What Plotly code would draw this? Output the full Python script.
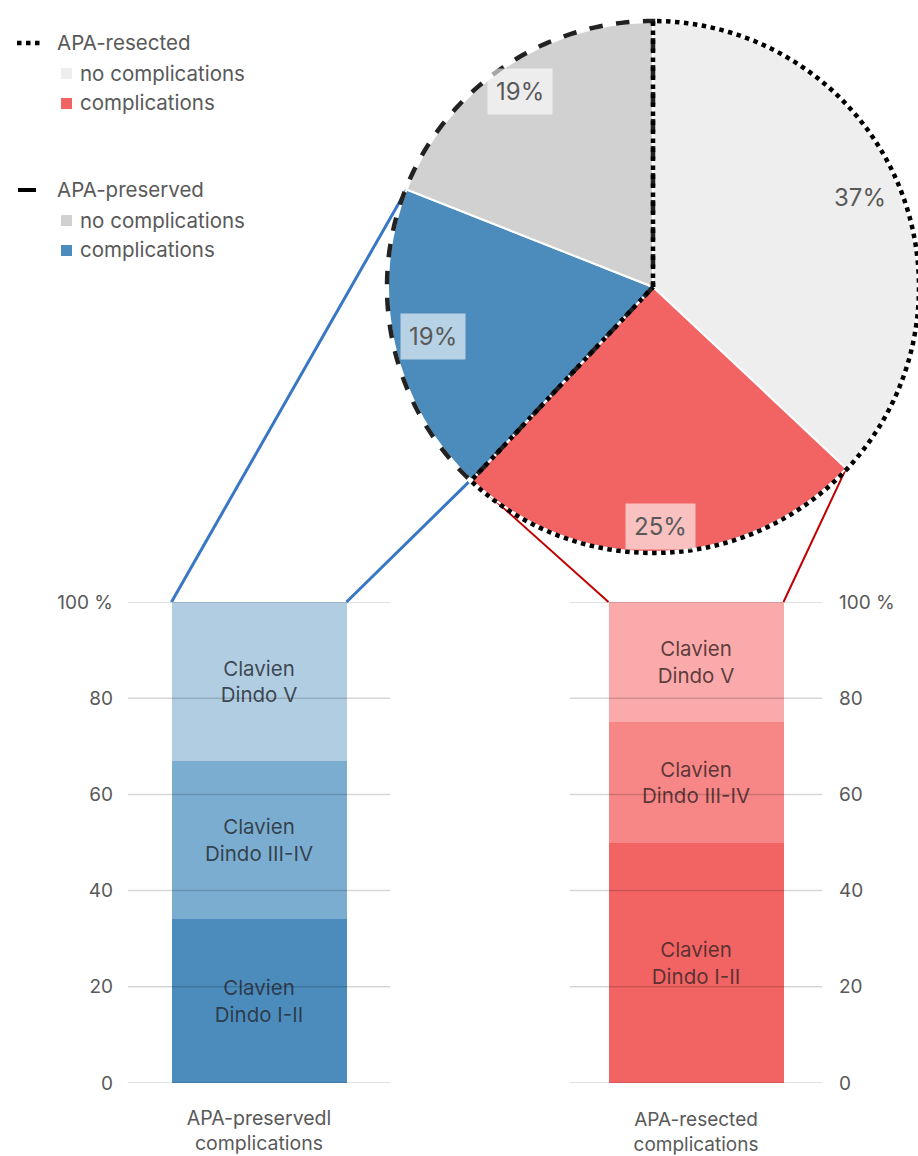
import math
import plotly.graph_objects as go

W, H = 918, 1156

# ---------------- data ----------------
pie_labels = ["APA-resected no complications", "APA-resected complications",
              "APA-preserved complications", "APA-preserved no complications"]
pie_values = [37, 25, 19, 19]
pie_colors = ["#eeeeee", "#f26464", "#4b8cbd", "#d1d1d1"]
pie_text = ["37%", "25%", "19%", "19%"]

grades = ["Clavien<br>Dindo I-II", "Clavien<br>Dindo III-IV", "Clavien<br>Dindo V"]
preserved_vals = [34, 33, 33]
resected_vals = [50, 25, 25]
preserved_colors = ["#4b8cbd", "#7badd0", "#b0cde2"]
resected_colors = ["#f26464", "#f78787", "#fbaaab"]
cat_preserved = ["APA-preservedl<br>complications"]
cat_resected = ["APA-resected<br>complications"]
y_ticks = [0, 20, 40, 60, 80, 100]
y_ticktext = ["0", "20", "40", "60", "80", "100 %"]

FONT = "Inter, Open Sans, sans-serif"
GREY = "#595959"

# ---------------- layout geometry ----------------
L_DOM = (128, 390)
R_DOM = (570, 822)
Y_TOP, Y_BOT = 602, 1083
BAR_W_PX = 175
PIE_CX, PIE_CY, PIE_R = 653, 287, 265


def px(x):
    return x / W


def py(y):
    return 1 - y / H


fig = go.Figure()

# pie
pie_dom_x = [px(PIE_CX - (W - PIE_CX)), 1.0]
pie_dom_y = [py(2 * PIE_CY), 1.0]
fig.add_trace(go.Pie(
    labels=pie_labels, values=pie_values, sort=False, direction="clockwise",
    rotation=0, marker=dict(colors=pie_colors, line=dict(color="white", width=2)),
    textinfo="none", hoverinfo="label+percent", showlegend=False,
    domain=dict(x=pie_dom_x, y=pie_dom_y)))

# stacked bars
lw = (L_DOM[1] - L_DOM[0])
rw = (R_DOM[1] - R_DOM[0])
for v, c, g in zip(preserved_vals, preserved_colors, grades):
    fig.add_trace(go.Bar(x=cat_preserved, y=[v], marker=dict(color=c, line=dict(width=0)),
                         width=BAR_W_PX / lw, text=[g], textposition="inside",
                         insidetextanchor="middle", constraintext="none",
                         textfont=dict(family=FONT, size=20.5, color="rgba(40,45,55,0.85)"),
                         xaxis="x", yaxis="y", showlegend=False, hoverinfo="y"))
for v, c, g in zip(resected_vals, resected_colors, grades):
    fig.add_trace(go.Bar(x=cat_resected, y=[v], marker=dict(color=c, line=dict(width=0)),
                         width=BAR_W_PX / rw, text=[g], textposition="inside",
                         insidetextanchor="middle", constraintext="none",
                         textfont=dict(family=FONT, size=20.5, color="rgba(65,40,40,0.85)"),
                         xaxis="x2", yaxis="y2", showlegend=False, hoverinfo="y"))

axis_common = dict(range=[0, 100], tickvals=y_ticks, ticktext=y_ticktext,
                   showgrid=False, zeroline=False, showline=False, automargin=False,
                   tickfont=dict(family=FONT, size=19, color=GREY))
xaxis_common = dict(showgrid=False, zeroline=False, showline=False, range=[-0.5, 0.5],
                    automargin=False)

fig.update_layout(
    width=W, height=H, margin=dict(l=0, r=0, t=0, b=0, pad=0, autoexpand=False),
    paper_bgcolor="white", plot_bgcolor="white", barmode="stack",
    xaxis=dict(domain=[px(L_DOM[0]), px(L_DOM[1])], anchor="y", ticklabelstandoff=21,
               tickfont=dict(family=FONT, size=19.5, color=GREY), **xaxis_common),
    yaxis=dict(domain=[py(Y_BOT), py(Y_TOP)], anchor="x", side="left",
               ticklabelstandoff=14, **axis_common),
    xaxis2=dict(domain=[px(R_DOM[0]), px(R_DOM[1])], anchor="y2", ticklabelstandoff=23,
                tickfont=dict(family=FONT, size=19, color=GREY), **xaxis_common),
    yaxis2=dict(domain=[py(Y_BOT), py(Y_TOP)], anchor="x2", side="right",
                ticklabelstandoff=16, **axis_common),
)

shapes = []
# gridlines above bars
for ax in ["", "2"]:
    for t in y_ticks:
        shapes.append(dict(type="line", xref=f"x{ax} domain", yref=f"y{ax}", x0=0, x1=1,
                           y0=t, y1=t, line=dict(color="rgba(0,0,0,0.16)", width=1.5),
                           layer="above"))

# pie boundaries
cum = [0]
for v in pie_values:
    cum.append(cum[-1] + v)
tot = cum[-1]


def pie_pt(frac, r=PIE_R):
    a = 2 * math.pi * frac
    return PIE_CX + r * math.sin(a), PIE_CY - r * math.cos(a)


def wedge_path(f0, f1, n=120):
    pts = [(PIE_CX, PIE_CY)]
    for i in range(n + 1):
        pts.append(pie_pt(f0 + (f1 - f0) * i / n, PIE_R + 1))
    pts.append((PIE_CX, PIE_CY))
    return "M " + " L ".join(f"{px(x):.5f},{py(y):.5f}" for x, y in pts)


resected_end = cum[2] / tot
shapes.append(dict(type="path", xref="paper", yref="paper",
                   path=wedge_path(resected_end, 1.0),
                   line=dict(color="#222222", width=4.5, dash="dash")))
shapes.append(dict(type="path", xref="paper", yref="paper",
                   path=wedge_path(0.0, resected_end),
                   line=dict(color="black", width=4.5, dash="dot")))

# connector lines
lbar_c = (L_DOM[0] + L_DOM[1]) / 2
rbar_c = (R_DOM[0] + R_DOM[1]) / 2
blue_a = pie_pt(cum[3] / tot)
blue_b = pie_pt(cum[2] / tot)
red_a = pie_pt(cum[2] / tot)
red_b = pie_pt(cum[1] / tot)
for (x0, y0), (x1, y1), col, w in [
    ((lbar_c - BAR_W_PX / 2, Y_TOP), blue_a, "#3777c4", 3),
    ((lbar_c + BAR_W_PX / 2, Y_TOP), (blue_b[0] - 3, blue_b[1] + 2), "#3777c4", 3),
    ((rbar_c - BAR_W_PX / 2, Y_TOP), (red_a[0] + 2, red_a[1] + 1), "#c00000", 2),
    ((rbar_c + BAR_W_PX / 2, Y_TOP), red_b, "#c00000", 2),
]:
    shapes.append(dict(type="line", xref="paper", yref="paper",
                       x0=px(x0), y0=py(y0), x1=px(x1), y1=py(y1),
                       line=dict(color=col, width=w), layer="below"))

annotations = []
# pie percentage labels
label_r = [0.85, 0.905, 0.85, 0.89]
boxed = [False, True, True, True]
for i, (t, rr, b) in enumerate(zip(pie_text, label_r, boxed)):
    mid = (cum[i] + cum[i + 1]) / 2 / tot
    x, y = pie_pt(mid, PIE_R * rr)
    annotations.append(dict(x=px(x), y=py(y), xref="paper", yref="paper", text=t,
                            showarrow=False, xanchor="center", yanchor="middle",
                            font=dict(family=FONT, size=24, color=GREY),
                            bgcolor="rgba(255,255,255,0.6)" if b else None,
                            borderpad=8 if b else 0))

# custom legend
legend_items = [
    ("APA-resected", None, 42, 55),
    ("no complications", pie_colors[0], 73, 78),
    ("complications", pie_colors[1], 103, 78),
    ("APA-preserved", None, 190, 55),
    ("no complications", pie_colors[3], 220, 78),
    ("complications", pie_colors[2], 250, 78),
]
for text, col, y, x in legend_items:
    annotations.append(dict(x=px(x), y=py(y), xref="paper", yref="paper", text=text,
                            showarrow=False, xanchor="left", yanchor="middle",
                            font=dict(family=FONT, size=20.5, color=GREY)))
    if col:
        shapes.append(dict(type="rect", xref="paper", yref="paper",
                           x0=px(61), x1=px(72), y0=py(y - 5), y1=py(y + 6),
                           fillcolor=col, line=dict(width=0)))
shapes.append(dict(type="line", xref="paper", yref="paper", x0=px(17), x1=px(42),
                   y0=py(43), y1=py(43), line=dict(color="black", width=4.5, dash="dot")))
shapes.append(dict(type="line", xref="paper", yref="paper", x0=px(18), x1=px(36),
                   y0=py(190), y1=py(190), line=dict(color="black", width=4)))

fig.update_layout(shapes=shapes, annotations=annotations)
fig.write_html("out.html")
